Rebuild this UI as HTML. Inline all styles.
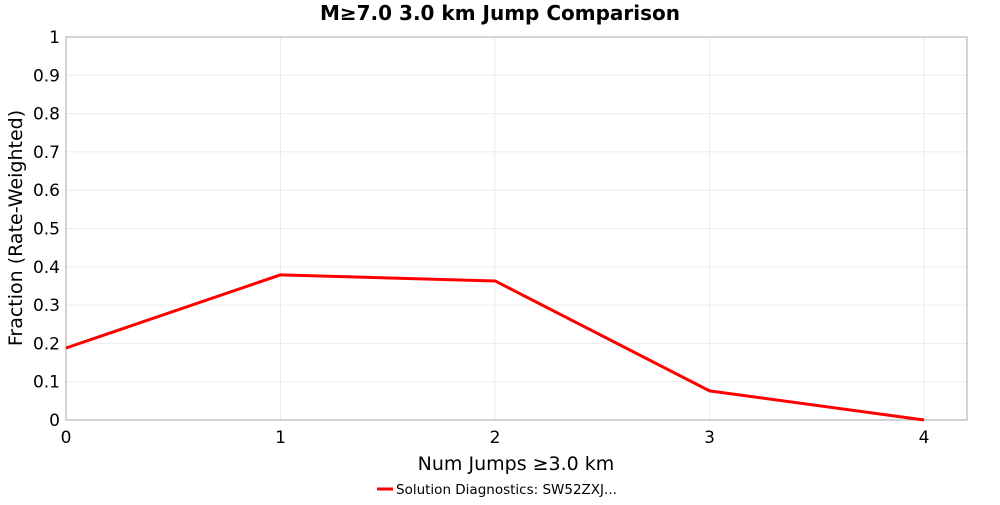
<!DOCTYPE html>
<html><head><meta charset="utf-8"><style>
body{margin:0;background:#fff;width:1000px;height:500px;overflow:hidden;font-family:"Liberation Sans","DejaVu Sans",sans-serif}
</style></head><body>
<svg id="chart" width="1000" height="500" xmlns="http://www.w3.org/2000/svg" font-family="DejaVu Sans, Liberation Sans, sans-serif">
<text x="500" y="20" text-anchor="middle" font-size="20" font-weight="bold">M≥7.0 3.0 km Jump Comparison</text>
<g id="grid"></g>
<rect x="66" y="37" width="901" height="383" fill="none" stroke="#aaa" stroke-width="1"/>
<g id="axes"></g><g id="series"></g>
<text x="516" y="470" text-anchor="middle" font-size="19">Num Jumps ≥3.0 km</text>
<text transform="translate(22,228) rotate(-90)" text-anchor="middle" font-size="19">Fraction (Rate-Weighted)</text>
<g>
<line x1="377" y1="489" x2="393" y2="489" stroke="#f00" stroke-width="3"/>
<text x="396" y="494" font-size="13.5">Solution Diagnostics: SW52ZXJ...</text>
</g>
</svg>
<script>
const categories=[0,1,2,3,4];
const values=[0.188,0.379,0.363,0.076,0.0];
const xTicks=[0,1,2,3,4];
const yTicks=[0,0.1,0.2,0.3,0.4,0.5,0.6,0.7,0.8,0.9,1];
const L=66,R=967,T=37,B=420,XMAX=4.2;
const xs=v=>L+v/XMAX*(R-L), ys=v=>B-v*(B-T);
const NS="http://www.w3.org/2000/svg";
const grid=document.getElementById('grid'),axes=document.getElementById('axes'),series=document.getElementById('series');
function mk(t,a,p){const e=document.createElementNS(NS,t);for(const k in a)e.setAttribute(k,a[k]);p.appendChild(e);return e;}
yTicks.forEach(v=>{
 const g=mk('line',{x1:L,x2:R,y1:ys(v),y2:ys(v),stroke:'#ececec','stroke-width':1},grid);
 
 
 const t=mk('text',{x:L-6,y:ys(v)+6,'text-anchor':'end','font-size':17},axes);
 t.textContent=String(v);
 
 
});
xTicks.forEach(v=>{
 const g=mk('line',{x1:xs(v),x2:xs(v),y1:T,y2:B,stroke:'#ececec','stroke-width':1},grid);
 
 
 const t=mk('text',{x:xs(v),y:B+23,'text-anchor':'middle','font-size':17},axes);
 t.textContent=String(v);
 
 
});
const pts=categories.map((c,i)=>xs(c)+','+ys(values[i])).join(' ');
const pl=mk('polyline',{points:pts,fill:'none',stroke:'#f00','stroke-width':3,'stroke-linejoin':'round'},series);


</script>
</body></html>
